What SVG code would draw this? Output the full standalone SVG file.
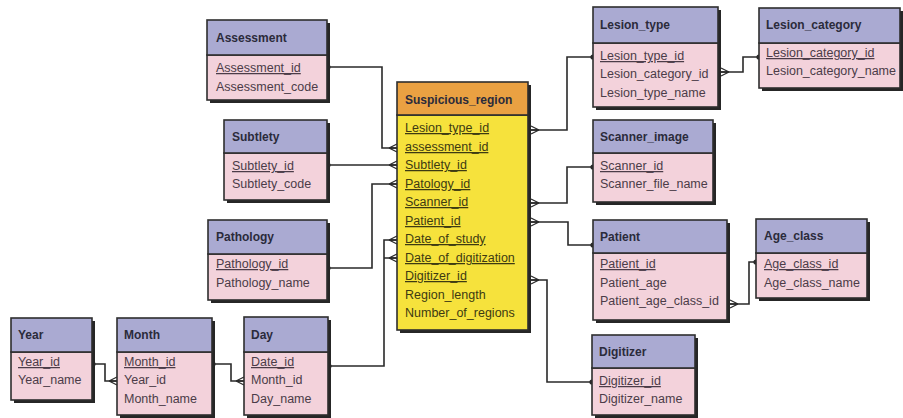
<svg xmlns="http://www.w3.org/2000/svg" width="903" height="418" viewBox="0 0 903 418">
  <style>
    .shadow { fill: #262626; }
    .head { fill: #aaaad2; stroke: #2e2e2e; stroke-width: 1.6; }
    .body { fill: #f3d2db; stroke: #2e2e2e; stroke-width: 1.6; }
    .head-main { fill: #eaa142; stroke: #2e2e2e; stroke-width: 1.6; }
    .body-main { fill: #f6e23c; stroke: #2e2e2e; stroke-width: 1.6; }
    .title { font-family: "Liberation Sans", Arial, sans-serif; font-size: 12px; font-weight: bold; fill: #2b2b3b; }
    .field { font-family: "Liberation Sans", Arial, sans-serif; font-size: 12.5px; fill: #4b3c48; }
    .field-main { font-family: "Liberation Sans", Arial, sans-serif; font-size: 12.5px; fill: #3d3a12; }
    .key { text-decoration: underline; }
    .link { fill: none; stroke: #2a2a2a; stroke-width: 1.6; }
    .crow { fill: none; stroke: #2a2a2a; stroke-width: 1.3; }
    .dot { fill: #2a2a2a; }
  </style>
  <defs>
    <!-- crow's foot opening to the right (box edge on the right) -->
    <path id="crowR" class="crow" d="M-8,0 L0,-4 M-8,0 L0,0 M-8,0 L0,4"/>
    <!-- crow's foot opening to the left (box edge on the left) -->
    <path id="crowL" class="crow" d="M8,0 L0,-4 M8,0 L0,0 M8,0 L0,4"/>
  </defs>

  <rect width="903" height="418" fill="#ffffff"/>

  <!-- connectors -->
  <g id="connectors">
    <path class="link" d="M327,67 H382 V148 H397"/>
    <path class="link" d="M327,165 H397"/>
    <path class="link" d="M327,268 H372 V184 H397"/>
    <path class="link" d="M328,366 H384 V240 H397 M384,258 H397"/>
    <path class="link" d="M92,364 H105 V381 H117"/>
    <path class="link" d="M212,364 H231 V381 H244"/>
    <path class="link" d="M531,130 H567 V57 H593"/>
    <path class="link" d="M531,203 H567 V167 H593"/>
    <path class="link" d="M531,222 H568 V245 H593"/>
    <path class="link" d="M531,280 H547 V382 H592"/>
    <path class="link" d="M721,72 H743 V57 H759"/>
    <path class="link" d="M730,304 H749 V262 H756"/>

    <circle class="dot" cx="328" cy="67" r="2.6"/>
    <circle class="dot" cx="328" cy="165" r="2.6"/>
    <circle class="dot" cx="328" cy="268" r="2.6"/>
    <circle class="dot" cx="329" cy="366" r="2.6"/>
    <circle class="dot" cx="93" cy="364" r="2.6"/>
    <circle class="dot" cx="213" cy="364" r="2.6"/>
    <circle class="dot" cx="593" cy="57" r="2.6"/>
    <circle class="dot" cx="593" cy="167" r="2.6"/>
    <circle class="dot" cx="593" cy="245" r="2.6"/>
    <circle class="dot" cx="592" cy="382" r="2.6"/>
    <circle class="dot" cx="759" cy="57" r="2.6"/>
    <circle class="dot" cx="756" cy="262" r="2.6"/>

    <use href="#crowR" x="397" y="148"/>
    <use href="#crowR" x="397" y="165"/>
    <use href="#crowR" x="397" y="184"/>
    <use href="#crowR" x="397" y="240"/>
    <use href="#crowR" x="397" y="258"/>
    <use href="#crowR" x="117" y="381"/>
    <use href="#crowR" x="244" y="381"/>
    <use href="#crowL" x="531" y="130"/>
    <use href="#crowL" x="531" y="203"/>
    <use href="#crowL" x="531" y="222"/>
    <use href="#crowL" x="531" y="280"/>
    <use href="#crowL" x="721" y="72"/>
    <use href="#crowL" x="730" y="304"/>
  </g>

  <g id="assessment">
    <rect class="shadow" x="210" y="23" width="120" height="80"/>
    <rect class="body" x="207" y="55" width="120" height="45"/>
    <rect class="head" x="207" y="20" width="120" height="35"/>
    <text class="title" x="216" y="42">Assessment</text>
    <text class="field key" x="216" y="72">Assessment_id</text>
    <text class="field" x="216" y="91">Assessment_code</text>
  </g>

  <g id="subtlety">
    <rect class="shadow" x="227" y="123" width="103" height="80"/>
    <rect class="body" x="224" y="153" width="103" height="47"/>
    <rect class="head" x="224" y="120" width="103" height="33"/>
    <text class="title" x="232" y="141">Subtlety</text>
    <text class="field key" x="232" y="170">Subtlety_id</text>
    <text class="field" x="232" y="188">Subtlety_code</text>
  </g>

  <g id="pathology">
    <rect class="shadow" x="211" y="223" width="119" height="80"/>
    <rect class="body" x="208" y="254" width="119" height="46"/>
    <rect class="head" x="208" y="220" width="119" height="34"/>
    <text class="title" x="216" y="241">Pathology</text>
    <text class="field key" x="216" y="268">Pathology_id</text>
    <text class="field" x="216" y="287">Pathology_name</text>
  </g>

  <g id="suspicious-region">
    <rect class="shadow" x="400" y="85" width="131" height="248"/>
    <rect class="body-main" x="397" y="115" width="131" height="215"/>
    <rect class="head-main" x="397" y="82" width="131" height="33"/>
    <text class="title" x="405" y="104">Suspicious_region</text>
    <text class="field-main key" x="405" y="132">Lesion_type_id</text>
    <text class="field-main key" x="405" y="151">assessment_id</text>
    <text class="field-main key" x="405" y="169">Subtlety_id</text>
    <text class="field-main key" x="405" y="188">Patology_id</text>
    <text class="field-main key" x="405" y="206">Scanner_id</text>
    <text class="field-main key" x="405" y="225">Patient_id</text>
    <text class="field-main key" x="405" y="243">Date_of_study</text>
    <text class="field-main key" x="405" y="262">Date_of_digitization</text>
    <text class="field-main key" x="405" y="280">Digitizer_id</text>
    <text class="field-main" x="405" y="299">Region_length</text>
    <text class="field-main" x="405" y="317">Number_of_regions</text>
  </g>

  <g id="lesion-type">
    <rect class="shadow" x="596" y="10" width="125" height="100"/>
    <rect class="body" x="593" y="43" width="125" height="64"/>
    <rect class="head" x="593" y="7" width="125" height="36"/>
    <text class="title" x="600" y="29">Lesion_type</text>
    <text class="field key" x="600" y="60">Lesion_type_id</text>
    <text class="field" x="600" y="78">Lesion_category_id</text>
    <text class="field" x="600" y="97">Lesion_type_name</text>
  </g>

  <g id="lesion-category">
    <rect class="shadow" x="762" y="11" width="141" height="80"/>
    <rect class="body" x="759" y="43" width="141" height="45"/>
    <rect class="head" x="759" y="8" width="141" height="35"/>
    <text class="title" x="766" y="29">Lesion_category</text>
    <text class="field key" x="766" y="57">Lesion_category_id</text>
    <text class="field" x="766" y="75">Lesion_category_name</text>
  </g>

  <g id="scanner-image">
    <rect class="shadow" x="596" y="123" width="120" height="82"/>
    <rect class="body" x="593" y="153" width="120" height="49"/>
    <rect class="head" x="593" y="120" width="120" height="33"/>
    <text class="title" x="600" y="141">Scanner_image</text>
    <text class="field key" x="600" y="170">Scanner_id</text>
    <text class="field" x="600" y="188">Scanner_file_name</text>
  </g>

  <g id="patient">
    <rect class="shadow" x="596" y="223" width="134" height="100"/>
    <rect class="body" x="593" y="253" width="134" height="67"/>
    <rect class="head" x="593" y="220" width="134" height="33"/>
    <text class="title" x="600" y="241">Patient</text>
    <text class="field key" x="600" y="268">Patient_id</text>
    <text class="field" x="600" y="287">Patient_age</text>
    <text class="field" x="600" y="305">Patient_age_class_id</text>
  </g>

  <g id="age-class">
    <rect class="shadow" x="759" y="222" width="111" height="79"/>
    <rect class="body" x="756" y="253" width="111" height="45"/>
    <rect class="head" x="756" y="219" width="111" height="34"/>
    <text class="title" x="764" y="240">Age_class</text>
    <text class="field key" x="764" y="268">Age_class_id</text>
    <text class="field" x="764" y="287">Age_class_name</text>
  </g>

  <g id="digitizer">
    <rect class="shadow" x="595" y="338" width="103" height="80"/>
    <rect class="body" x="592" y="368" width="103" height="47"/>
    <rect class="head" x="592" y="335" width="103" height="33"/>
    <text class="title" x="599" y="356">Digitizer</text>
    <text class="field key" x="599" y="385">Digitizer_id</text>
    <text class="field" x="599" y="403">Digitizer_name</text>
  </g>

  <g id="year">
    <rect class="shadow" x="14" y="321" width="81" height="82"/>
    <rect class="body" x="11" y="352" width="81" height="48"/>
    <rect class="head" x="11" y="318" width="81" height="34"/>
    <text class="title" x="18" y="339">Year</text>
    <text class="field key" x="18" y="366">Year_id</text>
    <text class="field" x="18" y="384">Year_name</text>
  </g>

  <g id="month">
    <rect class="shadow" x="120" y="321" width="95" height="97"/>
    <rect class="body" x="117" y="352" width="95" height="63"/>
    <rect class="head" x="117" y="318" width="95" height="34"/>
    <text class="title" x="124" y="339">Month</text>
    <text class="field key" x="124" y="366">Month_id</text>
    <text class="field" x="124" y="384">Year_id</text>
    <text class="field" x="124" y="403">Month_name</text>
  </g>

  <g id="day">
    <rect class="shadow" x="247" y="320" width="84" height="98"/>
    <rect class="body" x="244" y="352" width="84" height="63"/>
    <rect class="head" x="244" y="317" width="84" height="35"/>
    <text class="title" x="251" y="339">Day</text>
    <text class="field key" x="251" y="366">Date_id</text>
    <text class="field" x="251" y="384">Month_id</text>
    <text class="field" x="251" y="403">Day_name</text>
  </g>
</svg>
